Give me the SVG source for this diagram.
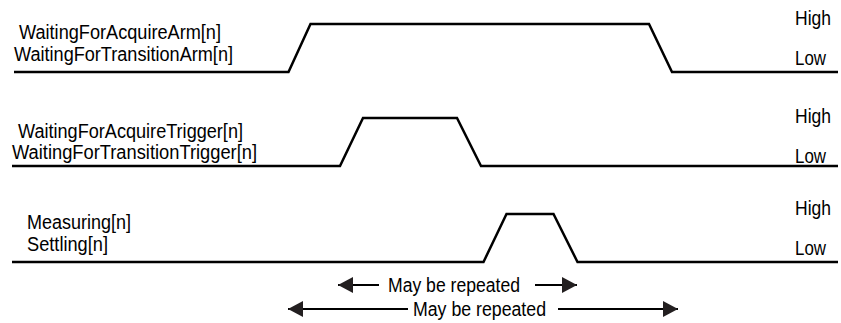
<svg xmlns="http://www.w3.org/2000/svg" width="841" height="323" viewBox="0 0 841 323">
<defs>
<style>
text{font-family:"Liberation Sans",Arial,sans-serif;font-size:19.5px;fill:#000}
.sig{fill:none;stroke:#000;stroke-width:2.5;stroke-linejoin:miter}
.arr{fill:none;stroke:#000;stroke-width:2}
</style>
<marker id="ah" viewBox="0 0 15 16" refX="15" refY="8" markerWidth="15" markerHeight="16" markerUnits="userSpaceOnUse" orient="auto">
<path d="M0,0 L15,8 L0,16 Z" fill="#231f20"/>
</marker>
</defs>
<rect width="841" height="323" fill="#fff"/>
<g id="signal-arm">
<text x="19" y="38.5" textLength="202" lengthAdjust="spacingAndGlyphs">WaitingForAcquireArm[n]</text>
<text x="14" y="61" textLength="219" lengthAdjust="spacingAndGlyphs">WaitingForTransitionArm[n]</text>
<path class="sig" d="M14,72 H288.5 L310.5,24 H649 L672,72 H838"/>
<text x="795" y="25" textLength="36" lengthAdjust="spacingAndGlyphs">High</text>
<text x="795" y="65" textLength="31" lengthAdjust="spacingAndGlyphs">Low</text>
</g>
<g id="signal-trigger">
<text x="18" y="138" textLength="225" lengthAdjust="spacingAndGlyphs">WaitingForAcquireTrigger[n]</text>
<text x="12" y="159" textLength="245" lengthAdjust="spacingAndGlyphs">WaitingForTransitionTrigger[n]</text>
<path class="sig" d="M12,166 H340 L363,118 H457 L481,166 H838"/>
<text x="795" y="123" textLength="36" lengthAdjust="spacingAndGlyphs">High</text>
<text x="795" y="163" textLength="31" lengthAdjust="spacingAndGlyphs">Low</text>
</g>
<g id="signal-measure">
<text x="27" y="229" textLength="104" lengthAdjust="spacingAndGlyphs">Measuring[n]</text>
<text x="27" y="251" textLength="81" lengthAdjust="spacingAndGlyphs">Settling[n]</text>
<path class="sig" d="M12,262 H483.5 L506.5,214 H553.5 L577.5,262 H838"/>
<text x="795" y="215" textLength="36" lengthAdjust="spacingAndGlyphs">High</text>
<text x="795" y="255" textLength="31" lengthAdjust="spacingAndGlyphs">Low</text>
</g>
<g id="connectors">
<line class="arr" x1="379" y1="285" x2="338" y2="285" marker-end="url(#ah)"/>
<line class="arr" x1="535" y1="285" x2="577" y2="285" marker-end="url(#ah)"/>
<line class="arr" x1="408" y1="309" x2="288" y2="309" marker-end="url(#ah)"/>
<line class="arr" x1="558" y1="309" x2="678" y2="309" marker-end="url(#ah)"/>
</g>
<g id="labels">
<text x="388" y="292" textLength="132" lengthAdjust="spacingAndGlyphs">May be repeated</text>
<text x="413" y="316" textLength="133" lengthAdjust="spacingAndGlyphs">May be repeated</text>
</g>
</svg>
